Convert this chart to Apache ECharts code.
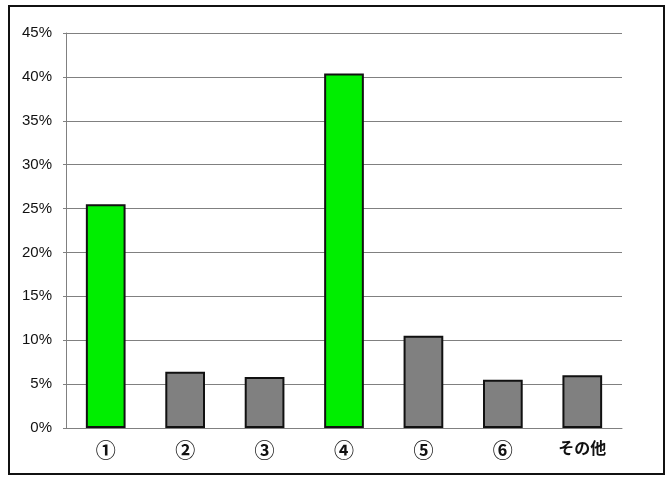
<!DOCTYPE html>
<html>
<head>
<meta charset="utf-8">
<script src="https://cdn.jsdelivr.net/npm/echarts@6/dist/echarts.min.js"></script>
<style>
html, body { margin: 0; padding: 0; background: #fff; }
#chart { width: 672px; height: 479px; }
</style>
</head>
<body>
<div id="chart"></div>
<script>
var categories = ['①', '②', '③', '④', '⑤', '⑥', 'その他'];
var values = [25.5, 6.4, 5.8, 40.4, 10.5, 5.5, 6.0];
var highlighted = [0, 3];

var chart = echarts.init(document.getElementById('chart'));

var option = {
    animation: false,
    backgroundColor: '#fff',
    graphic: [
        {
            type: 'rect',
            shape: { x: 9, y: 6, width: 655, height: 468 },
            style: { fill: 'none', stroke: '#111', lineWidth: 2 }
        }
    ],
    grid: { left: 66, right: 50, top: 33, bottom: 51 },
    xAxis: {
        type: 'category',
        data: categories,
        axisLine: { lineStyle: { color: '#808080', width: 1 } },
        axisTick: { inside: true, length: 5, lineStyle: { color: '#808080' } },
        axisLabel: {
            interval: 0,
            hideOverlap: false,
            margin: 12,
            color: '#111',
            fontSize: 20,
            fontWeight: 'bold',
            fontFamily: 'Noto Sans CJK JP',
            formatter: function (v) {
                return v.length > 1 ? '{b|' + v + '}' : v;
            },
            rich: {
                b: { fontSize: 16, fontWeight: 'bold', fontFamily: 'Noto Sans CJK JP', color: '#111' }
            }
        }
    },
    yAxis: {
        type: 'value',
        min: 0,
        max: 45,
        interval: 5,
        axisLine: { show: true, lineStyle: { color: '#808080', width: 1 } },
        axisTick: { show: true, length: 3, lineStyle: { color: '#808080' } },
        splitLine: { lineStyle: { color: '#808080', width: 1 } },
        axisLabel: {
            formatter: '{value}%',
            margin: 14,
            color: '#111',
            fontSize: 15,
            fontFamily: 'Liberation Sans Narrow, Liberation Sans'
        }
    },
    series: [
        {
            type: 'bar',
            barWidth: '50%',
            data: values.map(function (v, i) {
                return {
                    value: v,
                    itemStyle: {
                        color: highlighted.indexOf(i) >= 0 ? '#00ee00' : '#808080'
                    }
                };
            }),
            itemStyle: { borderColor: '#111', borderWidth: 2 }
        }
    ]
};

chart.setOption(option);
</script>
</body>
</html>
